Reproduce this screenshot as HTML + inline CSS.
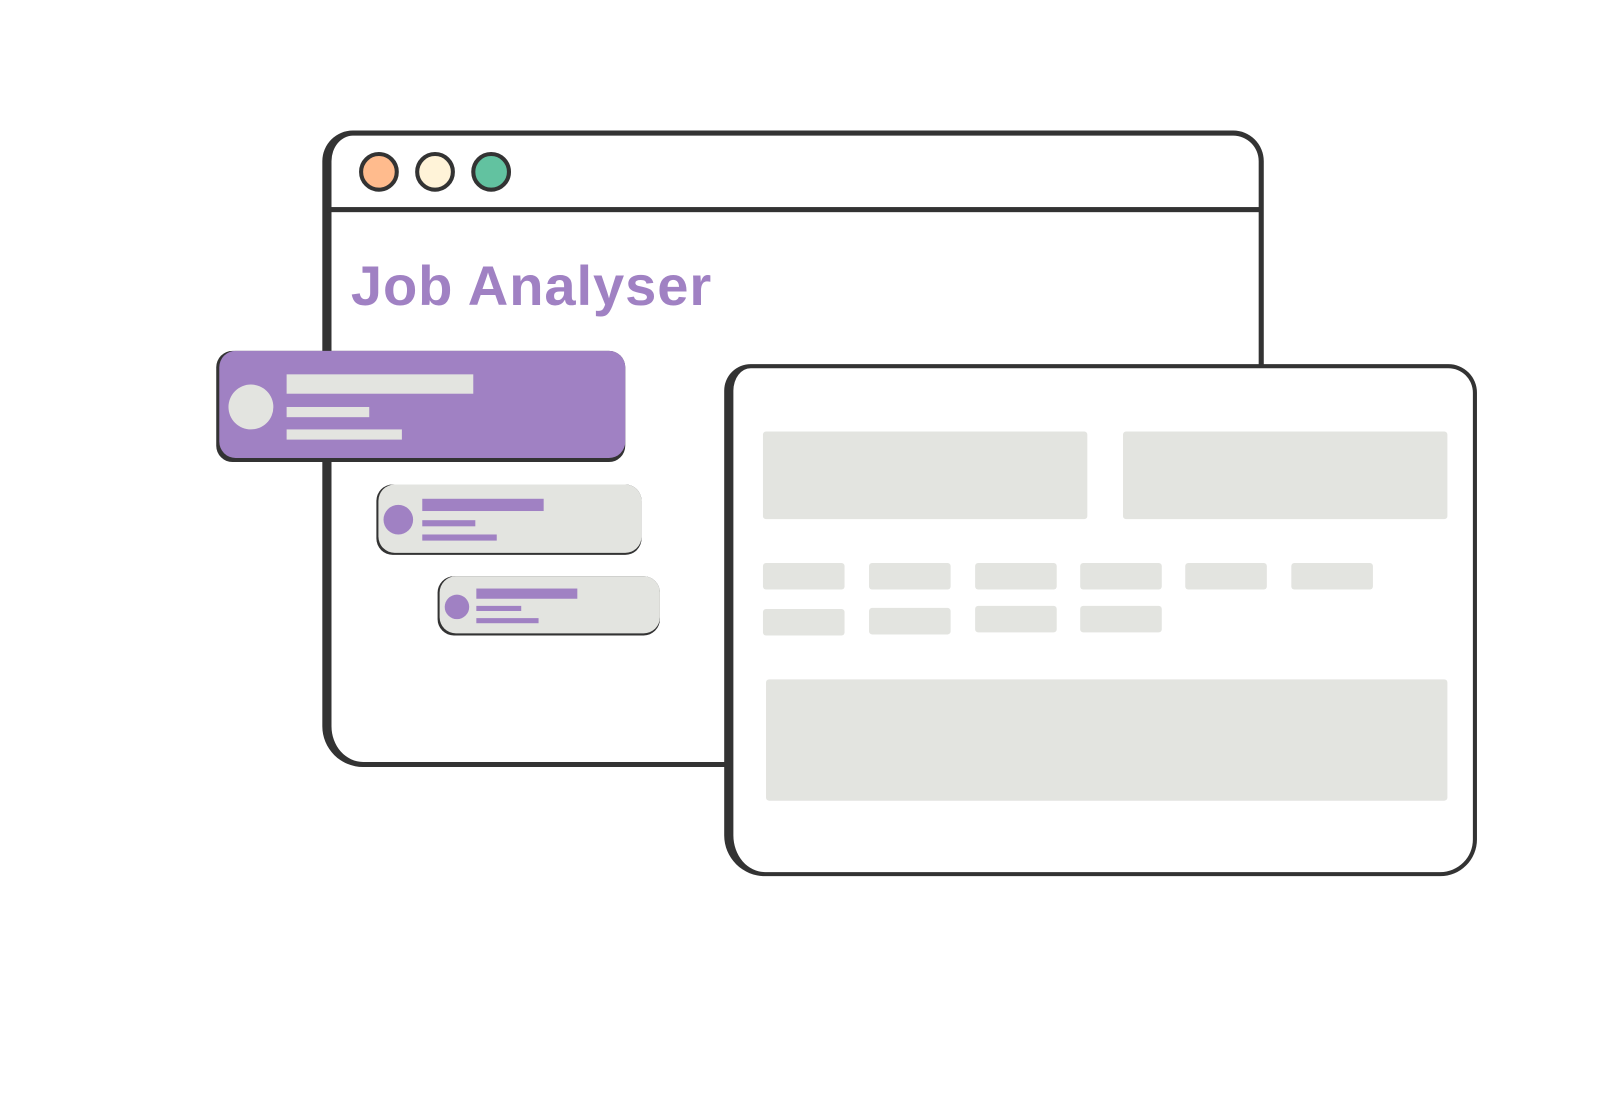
<!DOCTYPE html>
<html><head><style>
body{margin:0;width:1600px;height:1080px;background:#fff;position:relative;overflow:hidden;font-family:"Liberation Sans",sans-serif}
#w{position:absolute;left:0;top:0;width:1600px;height:1080px;transform:scale(1.02);transform-origin:0 0}
#w div{position:absolute;box-sizing:border-box}
.g{background:#e3e4e0;border-radius:3px}
.p{background:#a081c3}
</style></head><body><div id="w">
<div style="left:316px;top:128px;width:923px;height:624px;border:5px solid #333;border-left-width:9px;border-radius:30px 30px 30px 40px;background:#fff"></div>
<div style="left:321px;top:203px;width:914px;height:5px;background:#333"></div>
<div style="left:352px;top:149px;width:39px;height:39px;border:4px solid #333;border-radius:50%;background:#ffbb8d"></div>
<div style="left:407px;top:149px;width:39px;height:39px;border:4px solid #333;border-radius:50%;background:#fff3d8"></div>
<div style="left:462px;top:149px;width:39px;height:39px;border:4px solid #333;border-radius:50%;background:#62c2a0"></div>
<div style="left:344px;top:248px;font-size:55px;font-weight:bold;color:#a081c3;letter-spacing:0.9px;white-space:nowrap">Job Analyser</div>
<div style="left:212px;top:344px;width:401px;height:109px;background:#333;border-radius:16px"></div>
<div style="left:215px;top:344px;width:398px;height:105px;background:#a081c3;border-radius:16px"></div>
<div style="left:224px;top:377px;width:44px;height:44px;border-radius:50%;background:#e3e4e0"></div>
<div style="left:281px;top:367px;width:183px;height:19px;background:#e3e4e0"></div>
<div style="left:281px;top:399px;width:81px;height:10px;background:#e3e4e0"></div>
<div style="left:281px;top:421px;width:113px;height:10px;background:#e3e4e0"></div>
<div style="left:369px;top:475px;width:260px;height:69px;background:#333;border-radius:16px"></div>
<div style="left:371px;top:475px;width:258px;height:67px;background:#e3e4e0;border-radius:16px"></div>
<div class="p" style="left:376px;top:495px;width:29px;height:29px;border-radius:50%"></div>
<div class="p" style="left:414px;top:489px;width:119px;height:12px"></div>
<div class="p" style="left:414px;top:510px;width:52px;height:6px"></div>
<div class="p" style="left:414px;top:524px;width:73px;height:6px"></div>
<div style="left:429px;top:565px;width:218px;height:58px;background:#333;border-radius:16px"></div>
<div style="left:431px;top:565px;width:216px;height:56px;background:#e3e4e0;border-radius:16px"></div>
<div class="p" style="left:436px;top:583px;width:24px;height:24px;border-radius:50%"></div>
<div class="p" style="left:467px;top:577px;width:99px;height:10px"></div>
<div class="p" style="left:467px;top:594px;width:44px;height:5px"></div>
<div class="p" style="left:467px;top:606px;width:61px;height:5px"></div>
<div style="left:710px;top:357px;width:738px;height:502px;border:4px solid #333;border-left-width:9px;border-radius:26px 28px 36px 40px;background:#fff"></div>
<div class="g" style="left:748px;top:423px;width:318px;height:86px"></div>
<div class="g" style="left:1101px;top:423px;width:318px;height:86px"></div>
<div class="g" style="left:748px;top:552px;width:80px;height:26px"></div>
<div class="g" style="left:852px;top:552px;width:80px;height:26px"></div>
<div class="g" style="left:956px;top:552px;width:80px;height:26px"></div>
<div class="g" style="left:1059px;top:552px;width:80px;height:26px"></div>
<div class="g" style="left:1162px;top:552px;width:80px;height:26px"></div>
<div class="g" style="left:1266px;top:552px;width:80px;height:26px"></div>
<div class="g" style="left:748px;top:597px;width:80px;height:26px"></div>
<div class="g" style="left:852px;top:596px;width:80px;height:26px"></div>
<div class="g" style="left:956px;top:594px;width:80px;height:26px"></div>
<div class="g" style="left:1059px;top:594px;width:80px;height:26px"></div>
<div class="g" style="left:751px;top:666px;width:668px;height:119px"></div>
</div></body></html>
